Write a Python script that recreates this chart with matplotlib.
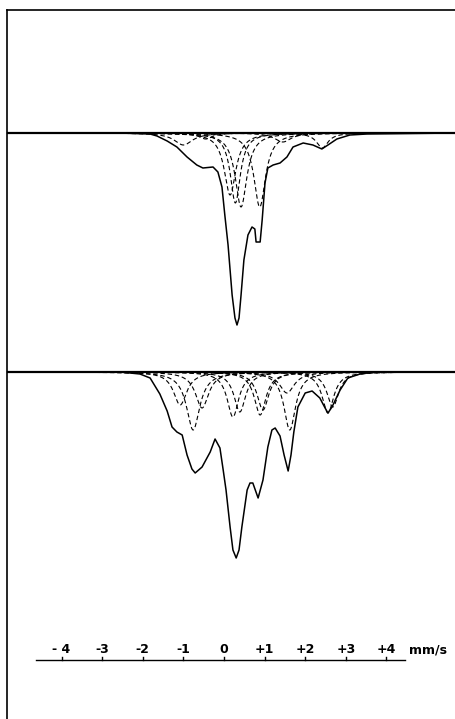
import numpy as np
import matplotlib.pyplot as plt
from matplotlib.lines import Line2D

# velocity axis (mm/s) and labels of the scale bar
scale_ticks = [-4, -3, -2, -1, 0, 1, 2, 3, 4]
scale_labels = ["- 4", "-3", "-2", "-1", "0", "+1", "+2", "+3", "+4"]
unit_label = "mm/s"

# upper spectrum: traced envelope (velocity mm/s, transmission %)
top_v = [-5.32, -2.56, -1.82, -1.65, -1.40, -1.16, -0.91, -0.67, -0.52, -0.27,
         -0.15, -0.05, 0.02, 0.10, 0.20, 0.27, 0.32, 0.37, 0.42, 0.49,
         0.59, 0.69, 0.76, 0.79, 0.89, 0.94, 1.01, 1.08, 1.21, 1.38,
         1.55, 1.70, 1.95, 2.19, 2.41, 2.56, 2.78, 3.10, 3.52, 5.71]
top_T = [100, 100, 99.9, 99.7, 99.2, 98.6, 97.6, 96.8, 96.5, 96.6,
         96.1, 94.6, 91.8, 88.8, 83.8, 81.5, 80.8, 81.5, 83.8, 87.3,
         89.8, 90.6, 90.4, 89.1, 89.1, 91.3, 95.0, 96.5, 96.8, 97.0,
         97.6, 98.6, 99.0, 98.8, 98.4, 98.8, 99.4, 99.8, 99.9, 100]

# upper spectrum: fitted sub-spectra (centre mm/s, depth %, fwhm mm/s)
top_centre = [-1.00, -0.45, 0.15, 0.28, 0.42, 0.88, 1.45, 2.42]
top_depth = [1.2, 0.6, 6.2, 7.0, 7.4, 7.4, 0.9, 1.5]
top_fwhm = [0.55, 0.40, 0.35, 0.30, 0.35, 0.35, 0.50, 0.35]

# lower spectrum: traced envelope
bot_v = [-5.32, -2.56, -2.07, -1.82, -1.58, -1.40, -1.28, -1.16, -1.03, -0.91,
         -0.79, -0.71, -0.54, -0.34, -0.22, -0.10, -0.02, 0.05, 0.15, 0.22,
         0.30, 0.37, 0.44, 0.57, 0.64, 0.71, 0.84, 0.96, 1.08, 1.18,
         1.26, 1.38, 1.48, 1.58, 1.65, 1.72, 1.82, 2.00, 2.17, 2.36,
         2.49, 2.56, 2.66, 2.86, 3.05, 3.35, 3.67, 5.71]
bot_T = [100, 100, 99.8, 99.4, 97.8, 96.1, 94.5, 94.0, 93.7, 91.7,
         90.3, 89.9, 90.5, 92.0, 93.3, 92.4, 90.2, 88.2, 84.5, 82.2,
         81.4, 82.2, 84.5, 88.2, 88.9, 88.9, 87.4, 89.2, 92.5, 94.2,
         94.4, 93.6, 91.7, 90.1, 91.7, 94.0, 96.5, 97.9, 98.1, 97.4,
         96.4, 95.9, 96.5, 98.2, 99.4, 99.8, 100, 100]

# lower spectrum: fitted sub-spectra
bot_centre = [-1.08, -0.76, -0.54, 0.22, 0.39, 0.89, 0.96, 1.55, 1.62, 2.56, 2.68]
bot_depth = [3.3, 5.8, 3.6, 4.5, 4.0, 4.3, 3.8, 2.1, 5.8, 4.1, 3.5]
bot_fwhm = [0.40, 0.40, 0.40, 0.35, 0.35, 0.35, 0.35, 0.45, 0.35, 0.35, 0.35]


def lorentz(v, c, d, w):
    return 100 - d / (1 + ((v - c) / (w / 2)) ** 2)


fig = plt.figure(figsize=(4.56, 7.19), dpi=100)
xlim = (-5.517, 5.714)
vgrid = np.linspace(-5.3, 5.7, 1200)

ax_top = fig.add_axes([0, 0, 1, 1])
ax_top.set_xlim(xlim)
ax_top.set_ylim(41.4, 113.3)
ax_top.axis("off")

ax_bot = fig.add_axes([0, 0, 1, 1])
ax_bot.set_xlim(xlim)
ax_bot.set_ylim(65.3, 137.2)
ax_bot.axis("off")

for ax, v, T, cs, ds, ws in [(ax_top, top_v, top_T, top_centre, top_depth, top_fwhm),
                             (ax_bot, bot_v, bot_T, bot_centre, bot_depth, bot_fwhm)]:
    ax.axhline(100, color="black", lw=1.6, xmin=0.017)
    for c, d, w in zip(cs, ds, ws):
        ax.plot(vgrid, lorentz(vgrid, c, d, w), color="black", lw=0.8,
                dashes=(4, 2.5))
    ax.plot(v, T, color="black", lw=1.1)

# scale bar
bar = ax_top.get_xaxis_transform()
ax_top.plot([-4.63, 4.46], [0.082, 0.082], color="black", lw=1.0, transform=bar)
for t, lab in zip(scale_ticks, scale_labels):
    ax_top.plot([t, t], [0.082, 0.086], color="black", lw=1.0, transform=bar)
    ax_top.text(t, 0.096, lab, transform=bar, ha="center", va="center",
                fontsize=9, fontweight="bold", family=["Liberation Sans Narrow", "DejaVu Sans"])
ax_top.text(4.55, 0.096, unit_label, transform=bar, ha="left", va="center",
            fontsize=9, fontweight="bold", family=["Liberation Sans Narrow", "DejaVu Sans"])

# frame lines of the scanned figure
fig.add_artist(Line2D([7 / 456, 1], [1 - 10 / 719] * 2, color="black", lw=1.2))
fig.add_artist(Line2D([7 / 456] * 2, [0, 1 - 10 / 719], color="black", lw=1.2))

fig.savefig("out.png", dpi=100)
